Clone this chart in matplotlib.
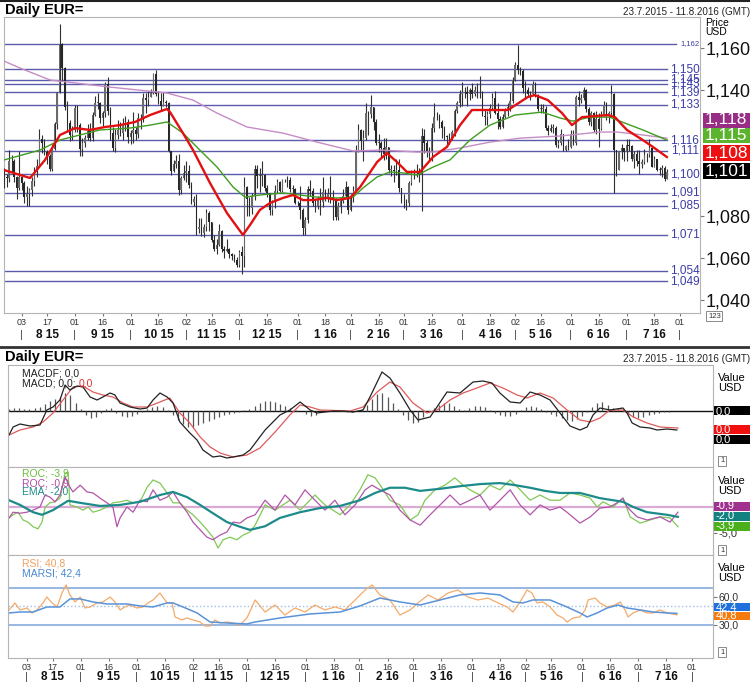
import numpy as np
import pandas as pd
import matplotlib
matplotlib.use("Agg")
import matplotlib.pyplot as plt
from matplotlib.patches import Rectangle

plt.rcParams["font.family"] = ["Liberation Sans", "DejaVu Sans"]

W, H = 750, 683

# ---- daily EUR= bars, 23.7.2015 - 25.7.2016 (one line per month) ----
closes = [
    1.0985, 1.0980, 1.1060, 1.1060, 1.0985, 1.0935, 1.0985,
    1.0955, 1.0890, 1.0905, 1.0925, 1.0965, 1.1015, 1.1040, 1.1165, 1.1150, 1.1105, 1.1085, 1.1025, 1.1120, 1.1240, 1.1385, 1.1620, 1.1505, 1.1320, 1.1245, 1.1185, 1.1210,
    1.1315, 1.1235, 1.1120, 1.1150, 1.1170, 1.1205, 1.1170, 1.1280, 1.1340, 1.1340, 1.1265, 1.1290, 1.1430, 1.1300, 1.1195, 1.1125, 1.1185, 1.1210, 1.1195, 1.1240, 1.1250, 1.1175,
    1.1195, 1.1210, 1.1190, 1.1265, 1.1265, 1.1360, 1.1355, 1.1365, 1.1385, 1.1475, 1.1380, 1.1350, 1.1325, 1.1345, 1.1340, 1.1110, 1.1015, 1.1050, 1.1060, 1.0925, 1.0980, 1.1005,
    1.1015, 1.0950, 1.0865, 1.0880, 1.0740, 1.0750, 1.0720, 1.0750, 1.0815, 1.0770, 1.0685, 1.0645, 1.0660, 1.0730, 1.0645, 1.0635, 1.0645, 1.0620, 1.0610, 1.0590, 1.0565,
    1.0630, 1.0610, 1.0940, 1.0880, 1.0840, 1.0895, 1.1025, 1.0990, 1.0990, 1.0995, 1.0935, 1.0910, 1.0830, 1.0865, 1.0920, 1.0960, 1.0920, 1.0970, 1.0970, 1.0970, 1.0930, 1.0930, 1.0860,
    1.0860, 1.0830, 1.0745, 1.0780, 1.0930, 1.0920, 1.0860, 1.0850, 1.0880, 1.0865, 1.0915, 1.0890, 1.0905, 1.0890, 1.0875, 1.0795, 1.0850, 1.0870, 1.0895, 1.0940, 1.0830,
    1.0890, 1.0920, 1.1105, 1.1210, 1.1155, 1.1170, 1.1290, 1.1285, 1.1320, 1.1250, 1.1150, 1.1150, 1.1125, 1.1095, 1.1130, 1.1020, 1.1020, 1.1015, 1.1020, 1.0935, 1.0870,
    1.0870, 1.0860, 1.0955, 1.1005, 1.1015, 1.1010, 1.0995, 1.1180, 1.1150, 1.1110, 1.1105, 1.1220, 1.1270, 1.1270, 1.1250, 1.1220, 1.1180, 1.1175, 1.1165, 1.1200, 1.1300, 1.1340, 1.1380,
    1.1390, 1.1390, 1.1380, 1.1400, 1.1380, 1.1400, 1.1390, 1.1390, 1.1275, 1.1270, 1.1285, 1.1315, 1.1360, 1.1290, 1.1260, 1.1225, 1.1270, 1.1300, 1.1320, 1.1350, 1.1450,
    1.1520, 1.1495, 1.1490, 1.1410, 1.1400, 1.1380, 1.1380, 1.1430, 1.1370, 1.1310, 1.1310, 1.1310, 1.1220, 1.1205, 1.1220, 1.1220, 1.1140, 1.1150, 1.1190, 1.1115, 1.1135, 1.1130,
    1.1190, 1.1150, 1.1365, 1.1355, 1.1360, 1.1400, 1.1310, 1.1250, 1.1290, 1.1210, 1.1260, 1.1215, 1.1280, 1.1330, 1.1275, 1.1290, 1.1380, 1.1115, 1.1020, 1.1105, 1.1125, 1.1105,
    1.1140, 1.1135, 1.1070, 1.1095, 1.1060, 1.1050, 1.1055, 1.1090, 1.1090, 1.1125, 1.1035, 1.1070, 1.1020, 1.1020, 1.1030, 1.0975, 1.1010,
]
highs = [
    1.1030, 1.1000, 1.1115, 1.1090, 1.1070, 1.0990, 1.1110,
    1.0990, 1.0965, 1.0945, 1.0935, 1.0985, 1.1035, 1.1070, 1.1215, 1.1185, 1.1165, 1.1115, 1.1095, 1.1145, 1.1250, 1.1390, 1.1715, 1.1625, 1.1510, 1.1350, 1.1255, 1.1230,
    1.1330, 1.1330, 1.1245, 1.1170, 1.1185, 1.1240, 1.1245, 1.1295, 1.1370, 1.1385, 1.1345, 1.1300, 1.1440, 1.1460, 1.1320, 1.1225, 1.1215, 1.1255, 1.1250, 1.1265, 1.1275, 1.1260,
    1.1210, 1.1295, 1.1225, 1.1290, 1.1285, 1.1385, 1.1385, 1.1395, 1.1405, 1.1480, 1.1495, 1.1395, 1.1385, 1.1390, 1.1355, 1.1345, 1.1110, 1.1065, 1.1090, 1.1095, 1.0990, 1.1045,
    1.1060, 1.1045, 1.0960, 1.0895, 1.0905, 1.0790, 1.0790, 1.0760, 1.0835, 1.0825, 1.0760, 1.0710, 1.0690, 1.0760, 1.0735, 1.0655, 1.0690, 1.0650, 1.0625, 1.0620, 1.0605,
    1.0640, 1.0655, 1.0985, 1.0945, 1.0890, 1.0910, 1.1045, 1.1045, 1.1030, 1.1060, 1.1000, 1.0950, 1.0910, 1.0875, 1.0950, 1.0975, 1.0965, 1.0975, 1.0975, 1.0990, 1.0985, 1.0950, 1.0935,
    1.0870, 1.0945, 1.0840, 1.0795, 1.0945, 1.0970, 1.0935, 1.0880, 1.0895, 1.0935, 1.0985, 1.0930, 1.0935, 1.0990, 1.0925, 1.0885, 1.0865, 1.0885, 1.0930, 1.0965, 1.0945,
    1.0905, 1.0945, 1.1140, 1.1240, 1.1215, 1.1210, 1.1340, 1.1300, 1.1375, 1.1320, 1.1260, 1.1190, 1.1155, 1.1170, 1.1170, 1.1070, 1.1045, 1.1045, 1.1070, 1.1070, 1.0935,
    1.0905, 1.0880, 1.0965, 1.1020, 1.1025, 1.1050, 1.1030, 1.1220, 1.1215, 1.1160, 1.1130, 1.1245, 1.1340, 1.1295, 1.1285, 1.1255, 1.1230, 1.1185, 1.1195, 1.1210, 1.1310, 1.1350, 1.1400,
    1.1440, 1.1415, 1.1420, 1.1410, 1.1435, 1.1420, 1.1435, 1.1465, 1.1395, 1.1305, 1.1300, 1.1335, 1.1385, 1.1395, 1.1340, 1.1275, 1.1285, 1.1315, 1.1340, 1.1390, 1.1460,
    1.1535, 1.1615, 1.1510, 1.1500, 1.1445, 1.1415, 1.1395, 1.1445, 1.1440, 1.1380, 1.1335, 1.1335, 1.1325, 1.1235, 1.1240, 1.1240, 1.1230, 1.1160, 1.1215, 1.1190, 1.1140, 1.1165,
    1.1210, 1.1210, 1.1375, 1.1395, 1.1380, 1.1415, 1.1405, 1.1320, 1.1300, 1.1295, 1.1300, 1.1290, 1.1300, 1.1350, 1.1345, 1.1300, 1.1425, 1.1385, 1.1115, 1.1110, 1.1145, 1.1125,
    1.1165, 1.1165, 1.1140, 1.1110, 1.1115, 1.1115, 1.1070, 1.1120, 1.1100, 1.1165, 1.1130, 1.1085, 1.1070, 1.1035, 1.1045, 1.1040, 1.1025,
]
lows = [
    1.0935, 1.0940, 1.0960, 1.1010, 1.0960, 1.0880, 1.0925,
    1.0925, 1.0860, 1.0850, 1.0850, 1.0895, 1.0945, 1.0985, 1.1040, 1.1100, 1.1090, 1.1050, 1.1015, 1.1015, 1.1115, 1.1215, 1.1385, 1.1445, 1.1305, 1.1200, 1.1155, 1.1160,
    1.1200, 1.1200, 1.1085, 1.1085, 1.1130, 1.1160, 1.1155, 1.1155, 1.1275, 1.1310, 1.1245, 1.1230, 1.1270, 1.1280, 1.1160, 1.1110, 1.1105, 1.1165, 1.1180, 1.1160, 1.1205, 1.1150,
    1.1145, 1.1150, 1.1160, 1.1170, 1.1215, 1.1250, 1.1290, 1.1325, 1.1365, 1.1380, 1.1370, 1.1335, 1.1305, 1.1325, 1.1320, 1.1105, 1.0995, 1.1010, 1.1030, 1.0900, 1.0905, 1.0970,
    1.0960, 1.0935, 1.0855, 1.0850, 1.0710, 1.0720, 1.0705, 1.0700, 1.0730, 1.0730, 1.0675, 1.0635, 1.0620, 1.0655, 1.0630, 1.0600, 1.0630, 1.0600, 1.0590, 1.0580, 1.0555,
    1.0555, 1.0525, 1.0555, 1.0800, 1.0800, 1.0810, 1.0875, 1.0935, 1.0915, 1.0945, 1.0920, 1.0890, 1.0805, 1.0805, 1.0840, 1.0910, 1.0915, 1.0915, 1.0960, 1.0940, 1.0915, 1.0905, 1.0855,
    1.0850, 1.0785, 1.0710, 1.0710, 1.0765, 1.0895, 1.0850, 1.0820, 1.0835, 1.0805, 1.0845, 1.0870, 1.0865, 1.0860, 1.0780, 1.0780, 1.0780, 1.0815, 1.0860, 1.0890, 1.0810,
    1.0825, 1.0865, 1.0915, 1.1105, 1.1115, 1.1060, 1.1160, 1.1185, 1.1265, 1.1210, 1.1140, 1.1105, 1.1080, 1.1065, 1.1070, 1.1005, 1.0990, 1.0960, 1.0995, 1.0915, 1.0860,
    1.0840, 1.0830, 1.0850, 1.0950, 1.0975, 1.0985, 1.0960, 1.0825, 1.1100, 1.1080, 1.1060, 1.1060, 1.1200, 1.1255, 1.1220, 1.1170, 1.1160, 1.1145, 1.1145, 1.1160, 1.1180, 1.1290, 1.1320,
    1.1325, 1.1360, 1.1325, 1.1355, 1.1360, 1.1370, 1.1360, 1.1360, 1.1275, 1.1235, 1.1235, 1.1265, 1.1305, 1.1285, 1.1215, 1.1215, 1.1220, 1.1265, 1.1275, 1.1300, 1.1340,
    1.1445, 1.1475, 1.1470, 1.1385, 1.1360, 1.1365, 1.1355, 1.1375, 1.1365, 1.1300, 1.1290, 1.1290, 1.1210, 1.1185, 1.1200, 1.1195, 1.1130, 1.1125, 1.1140, 1.1110, 1.1110, 1.1115,
    1.1125, 1.1140, 1.1140, 1.1325, 1.1340, 1.1355, 1.1295, 1.1235, 1.1230, 1.1200, 1.1190, 1.1130, 1.1210, 1.1275, 1.1255, 1.1245, 1.1275, 1.0910, 1.0990, 1.1025, 1.1070, 1.1060,
    1.1060, 1.1110, 1.1060, 1.1030, 1.1040, 1.1000, 1.1030, 1.1050, 1.1055, 1.1080, 1.1035, 1.1055, 1.1015, 1.0995, 1.0985, 1.0965, 1.0980,
]

levels = [1.162, 1.150, 1.145, 1.143, 1.139, 1.133, 1.116, 1.111, 1.100, 1.091, 1.085, 1.071, 1.054, 1.049]

# moving averages (trading-day number, price)
red_day = [0, 10.3, 16.2, 22.1, 28.1, 34.0, 39.9, 45.8, 51.8, 57.7, 64.4, 65.6, 70.7, 74.7, 81.4, 88.1, 94.4, 97.2, 101.1, 105.1,
           110.2, 114.2, 118.1, 122.1, 127.6, 131.6, 136.7, 140.7, 147.4, 151.3, 155.3, 159.2, 164.4, 169.5, 175.0, 180.2, 184.9,
           192.0, 199.1, 207.0, 209.8, 214.9, 220.5, 224.4, 228.4, 238.6, 241.4, 246.1, 252.4, 256.4, 261.9]
red_ma = [1.1019, 1.0981, 1.1067, 1.1186, 1.1219, 1.1210, 1.1224, 1.1233, 1.1248, 1.1281, 1.1310, 1.1295, 1.1195, 1.1114, 1.0957,
          1.0814, 1.0710, 1.0757, 1.0829, 1.0862, 1.0886, 1.0900, 1.0876, 1.0876, 1.0886, 1.0876, 1.0886, 1.0938, 1.1057, 1.1100,
          1.1057, 1.1010, 1.1010, 1.1081, 1.1129, 1.1233, 1.1305, 1.1305, 1.1305, 1.1367, 1.1376, 1.1352, 1.1290, 1.1233, 1.1271,
          1.1281, 1.1271, 1.1210, 1.1162, 1.1129, 1.1081]
green_day = [0, 14.2, 22.1, 37.9, 49.8, 57.7, 64.4, 70.7, 77.4, 84.2, 90.5, 95.2, 101.1, 110.2, 117.0, 123.7, 131.6, 137.9,
             141.8, 147.4, 152.5, 157.6, 163.2, 169.5, 176.2, 184.1, 192.0, 201.9, 212.6, 219.7, 224.8, 231.5, 239.4, 242.2, 252.4, 261.9]
green_ma = [1.1067, 1.1114, 1.1162, 1.1210, 1.1219, 1.1233, 1.1248, 1.1195, 1.1114, 1.1033, 1.0938, 1.0890, 1.0900, 1.0910,
            1.0900, 1.0890, 1.0886, 1.0890, 1.0933, 1.0986, 1.1010, 1.1005, 1.0995, 1.1033, 1.1067, 1.1162, 1.1233, 1.1281,
            1.1295, 1.1267, 1.1252, 1.1271, 1.1271, 1.1257, 1.1210, 1.1162]
purple_day = [0, 6.3, 18.2, 41.9, 64.4, 74.7, 84.2, 96.0, 110.2, 123.7, 137.9, 149.7, 163.2, 169.5, 180.2, 192.0, 203.9,
              219.7, 235.5, 242.2, 252.4, 261.9]
purple_ma = [1.1538, 1.1505, 1.1448, 1.1414, 1.1386, 1.1352, 1.1290, 1.1224, 1.1195, 1.1152, 1.1110, 1.1114, 1.1105, 1.1105,
             1.1124, 1.1152, 1.1171, 1.1181, 1.1200, 1.1200, 1.1186, 1.1171]

# MACD panel (values in 1e-3)
macd_day = [0, 1.6, 4.3, 8.2, 12.1, 14.8, 17.2, 19.9, 21.9, 23.8, 26.6, 28.9, 31.7, 34.4, 36.7, 39.5, 41.4, 43.4, 47.3, 51.2,
            54, 56.3, 59, 61.8, 64.1, 66.8, 70.7, 73.5, 75.8, 79.7, 82.5, 85.2, 87.6, 91.5, 94.2, 100.1, 105.9, 109.8, 113.8,
            117.7, 120.4, 126.7, 130.6, 134.5, 138.4, 141.1, 145.8, 148.9, 152.8, 156.8, 159.9, 164.6, 167.3, 171.2, 176.3,
            181.4, 185.3, 188.8, 191.9, 195.9, 199.8, 203.7, 207.6, 211.5, 215.4, 219.3, 223.2, 226, 228.3, 231, 234.9, 240,
            241.6, 243.6, 246.7, 250.6, 253.3, 257.2, 261.1]
macd_line = [-9.6, -6.4, -5.2, -6.0, -5.6, 0.4, 1.6, 4.4, 10.4, 8.4, 10.0, 9.6, 5.6, 4.4, 5.6, 7.2, 6.4, 3.2, 1.6, 0.8, 1.2, 4.4,
             7.2, 5.6, 3.2, -4.4, -8.8, -11.6, -15.6, -18.4, -18.0, -18.8, -18.4, -17.6, -15.6, -7.6, -1.6, 0.4, 3.6, 0.4, -0.8,
             0, 0, -0.4, 0.4, 5.6, 15.6, 13.2, 7.2, 0.4, -3.6, -2.4, 1.6, 7.6, 7.2, 11.6, 12.0, 11.2, 7.2, 3.6, 3.2, 7.6, 6.4,
             4.4, -0.8, -6.0, -7.6, -6.4, -1.6, 1.2, 0.4, 1.2, -0.8, -4.8, -6.4, -6.8, -7.6, -7.2, -7.6]
signal_day = [0, 4.3, 9.4, 13.3, 17.2, 21.1, 25, 28.9, 32.8, 36.7, 40.6, 44.6, 48.5, 54, 59, 62.9, 66.8, 70.7, 74.7, 78.6, 82.5,
              87.6, 93, 98.1, 104, 109.8, 113.8, 117.7, 121.6, 133.3, 138.4, 143.9, 148.9, 152.8, 157.9, 163.4, 167.3, 172.4,
              177.5, 182.9, 188, 193.1, 198.6, 202.5, 207.6, 212.7, 218.1, 223.2, 227.2, 231, 234.9, 240, 244, 249.4, 254.5, 261.5]
signal_line = [-9.6, -7.6, -6.4, -4.4, -0.8, 4.4, 9.6, 10.0, 7.6, 6.4, 5.6, 3.2, 1.6, 1.6, 3.6, 5.2, -0.8, -4.8, -10.4, -14.4,
               -16.8, -18.4, -17.6, -14.8, -8.4, -1.6, 2.4, 1.6, 0.4, 0, 1.6, 7.6, 11.6, 9.6, 3.2, -0.8, 0.4, 4.4, 7.2, 9.2, 11.2,
               9.2, 6.4, 5.2, 7.2, 5.2, 0.4, -3.6, -4.4, -2.8, 0.4, 0.4, -2.4, -4.8, -6.4, -6.8]
hist_day = list(range(0, 263, 2))
hist_val = [0.8, 1.2, 1.2, 0.8, 0.8, 1.2, 1.6, 2.8, 4.0, 4.8,
            5.6, 7.2, 6.4, 3.2, 0.8, -1.6, -2.8, -2.4, -0.8, 0.8,
            1.2, -0.8, -2.0, -2.4, -2.0, -1.2, -0.4, 0.8, 1.6, 2.0,
            1.6, 0.4, -1.6, -3.6, -5.2, -6.4, -6.4, -5.6, -4.8, -4.0,
            -3.2, -2.4, -1.6, -1.2, -0.8, -0.4, 0.4, 0.8, 2.0, 3.2,
            4.0, 4.0, 3.6, 2.8, 2.0, 1.2, 0.4, 0.0, -1.2, -2.0,
            -1.6, -0.4, 0.4, 0.4, 0.0, 0.4, -0.4, -0.4, 0.0, 0.8,
            2.4, 4.8, 6.8, 7.2, 5.6, 3.2, 0.8, -1.6, -3.6, -4.8,
            -4.4, -2.4, -0.4, 1.2, 2.4, 3.2, 3.2, 2.0, 0.8, 0.4,
            1.2, 2.0, 2.0, 1.6, 0.4, -0.8, -1.6, -2.0, -2.0, -1.2,
            0.4, 1.6, 2.0, 1.6, 0.8, -0.4, -1.2, -2.0, -2.8, -3.6,
            -4.0, -3.2, -2.0, -0.4, 1.6, 3.2, 3.6, 2.4, 1.2, 0.8,
            0.4, -1.2, -2.4, -2.8, -2.4, -1.6, -1.2, -0.8, -0.4, -0.4,
            0.0, 0.0]

# ROC panel
roc_g_day = [0, 1.6, 3.5, 5.5, 7.4, 9.4, 11.3, 12.9, 14.1, 16, 18, 19.9, 21.9, 23.1, 23.8, 26.6, 28.9, 30.9, 32.8, 35.6, 38.3,
             40.6, 43.4, 46.1, 48.5, 51.2, 54, 56.3, 59, 61.8, 64.1, 66.8, 69.6, 71.9, 74.7, 77.4, 79.7, 81.7, 83.7, 86.4, 89.1,
             91.5, 94.2, 96.2, 100.1, 104, 109.8, 113.8, 119.6, 123.5, 129.4, 133.3, 137.2, 140.3, 143.1, 145.8, 148.9, 152.8,
             156.8, 159.9, 162.6, 166.5, 170.4, 174.3, 177.5, 180.2, 184.1, 188, 191.9, 195.9, 199.8, 203.7, 207.6, 211.5,
             215.4, 219.3, 223.2, 227.2, 229.9, 232.2, 236.1, 240, 242.8, 246.7, 250.6, 254.5, 258.4, 261.5]
roc_g = [-2.1, -1.5, -1.0, -2.5, -2.9, -3.8, -4.2, -2.9, 0, 0.8, 1.0, 1.7, 6.5, 6.7, 0.4, 0, -0.6, 0, -1.0, -0.6, 0, 0.8, 1.0,
         1.3, 0.8, 1.0, 3.8, 5.2, 4.6, 2.7, 0.8, 0.8, -0.6, -1.5, -2.9, -4.4, -5.8, -7.9, -6.3, -5.8, -6.3, -5.4, -4.8, -3.5,
         0.4, -0.6, 1.3, -0.6, 2.3, 0.4, -1.5, 0.4, 3.3, 6.2, 5.6, 3.7, 1.3, 0.4, -2.5, -1.5, 1.3, 3.3, 4.2, 5.6, 4.2, 3.3,
         2.3, 4.2, 3.3, 5.2, 3.3, 1.3, 2.3, 1.3, 1.3, 2.7, 2.3, 1.7, 0, 1.0, 0, 1.7, -1.9, -3.1, -2.5, -1.9, -2.1, -3.8]
roc_p_day = [0, 1.6, 4.3, 7.0, 9.4, 12.1, 14.1, 16, 18, 19.9, 21.9, 23.8, 25, 27.8, 30.5, 32.8, 35.6, 38.3, 40.6, 42.2, 43.4,
             46.1, 48.5, 51.2, 54, 56.3, 59, 61.8, 64.1, 66.8, 69.6, 71.9, 74.7, 77.4, 79.7, 82.5, 85.2, 87.6, 90.3, 93, 96.2,
             100.1, 104, 107.9, 111.8, 115.7, 119.6, 123.5, 127.4, 131.3, 135.3, 139.2, 141.9, 145, 148.9, 152.8, 156.8, 160.7,
             164.6, 168.5, 172.4, 176.3, 180.2, 184.1, 188, 191.9, 195.9, 199.8, 203.7, 207.6, 211.5, 215.4, 218.1, 223.2,
             227.2, 231, 234.9, 237.7, 240, 241.6, 245.5, 249.4, 254.5, 258.4, 261.5]
roc_p = [-2.1, -1.0, -1.2, -1.0, -0.6, 0, 2.3, 1.9, 1.0, 2.3, 5.8, 3.8, 2.9, 4.2, 2.9, 2.7, 1.7, 0.8, 0, -3.8, -2.1, 0, -1.0,
         1.3, 1.0, 3.3, 1.3, 1.9, 2.9, 0.8, -1.0, -2.9, -4.4, -5.8, -6.3, -5.4, -4.8, -2.9, -3.1, -2.1, -1.5, 1.3, -0.6, 2.3,
         0.4, 3.3, 1.3, -0.6, 1.3, -1.5, 0.4, 3.3, 4.2, 3.3, 2.3, -0.6, -2.5, -3.5, -1.5, 0.4, 2.3, 0.4, 1.3, 2.3, -0.6, 1.3,
         3.3, 0.4, -1.5, 0.4, -0.6, 0, -1.0, -3.1, -1.9, -0.2, 0, 0.8, 1.7, 0, -1.9, -2.5, -1.9, -2.9, -1.0]
ema_day = [0, 4.3, 9.4, 12.9, 17.2, 23.1, 27.8, 35.6, 43.4, 51.2, 59, 64.1, 69.6, 74.7, 79.7, 85.2, 90.3, 94.2, 100.1, 105.9,
           113.8, 121.6, 129.4, 137.2, 143.1, 148.9, 154.8, 160.7, 168.5, 176.3, 184.1, 191.9, 197.8, 203.7, 209.5, 215.4,
           223.2, 231, 240, 244, 249.4, 257.2, 261.5]
ema_val = [1.3, 0.4, -1.0, -1.5, -0.6, 1.2, 0.8, 0.2, 0.4, 1.0, 2.3, 2.9, 1.9, 0.4, -1.2, -2.9, -3.8, -4.4, -3.7, -2.1, -1.0,
           -0.2, 0.2, 1.3, 2.7, 3.7, 3.7, 3.1, 3.5, 4.0, 4.4, 4.6, 4.2, 3.7, 3.1, 2.7, 2.7, 1.7, 1.0, 0, -1.0, -1.5, -1.9]

# RSI panel
rsi_day = [0, 2.3, 4.3, 7.0, 9.0, 11, 13.3, 14.8, 16.8, 18.8, 20.7, 22.3, 23.8, 25.8, 27.8, 29.7, 31.7, 34.4, 36.7, 39.5,
           41.4, 43.4, 45.3, 47.3, 50, 52.4, 54.3, 56.3, 59, 61.8, 63.7, 64.9, 67.6, 69.6, 71.9, 74.7, 76.6, 78.6, 80.5, 82.5,
           85.2, 87.6, 90.3, 93, 96.2, 100.1, 104, 107.9, 111.8, 115.7, 119.6, 123.5, 127.4, 131.3, 135.3, 139.2, 141.9, 145,
           148.9, 152.8, 156.8, 159.9, 163.8, 167.7, 171.6, 175.5, 179.4, 183.3, 187.2, 191.2, 194.7, 197, 199.8, 202.5,
           204.4, 206.4, 208.7, 211.5, 214.2, 216.6, 218.1, 220.5, 223.2, 225.2, 226.4, 229.1, 231, 233.8, 236.9, 238.9,
           240.8, 242, 244, 246.7, 249.4, 251.8, 254.5, 257.2, 261.1]
rsi_val = [46.1, 53.6, 46.1, 48.2, 42.9, 46.1, 53.6, 60, 53.6, 49.3, 64.3, 72.9, 62.2, 54.7, 60, 48.2, 49.3, 53.6, 54.7, 60,
           54.7, 46.1, 49.3, 51.4, 48.2, 49.3, 53.6, 56.8, 64.3, 53.6, 53.6, 38.6, 35.4, 37.5, 35.4, 33.2, 28.9, 28.9, 35.4,
           32.1, 33.2, 32.1, 30, 37.5, 56.8, 43.9, 51.4, 40.7, 48.2, 43.9, 51.4, 46.1, 49.3, 46.1, 56.8, 67.5, 72.9, 62.2,
           56.8, 40.7, 46.1, 53.6, 62.2, 56.8, 64.3, 67.5, 60, 56.8, 58.9, 53.6, 49.3, 43.9, 54.7, 67.5, 64.3, 53.6, 54.7,
           49.3, 40.7, 37.5, 33.2, 37.5, 38.6, 46.1, 56.8, 58.9, 53.6, 49.3, 51.4, 54.7, 46.1, 38.6, 42.9, 46.1, 42.9, 42.9,
           46.1, 42.9, 40.8]
marsi_day = [0, 4.3, 9.4, 14.8, 19.9, 23.8, 27.8, 32.8, 38.3, 46.1, 51.2, 56.3, 61.8, 64.1, 68, 73.5, 78.6, 85.2, 93, 96.2,
             105.9, 117.7, 129.4, 137.2, 145, 152.8, 160.7, 168.5, 176.3, 184.1, 191.9, 197, 200.9, 204.8, 211.5, 218.1,
             223.2, 226, 229.9, 233.8, 238.1, 241.6, 246.7, 251.8, 257.2, 261.1]
marsi_val = [42.9, 43.9, 43.9, 49.3, 49.3, 57.9, 57.9, 54.7, 52.5, 52.5, 50.4, 49.3, 53.6, 53.6, 49.3, 42.9, 33.2, 32.1, 31.1,
             33.2, 37.5, 41.8, 43.9, 50.4, 58.9, 54.7, 51.4, 56.8, 62.2, 64.3, 62.2, 54.7, 53.6, 56.8, 56.8, 49.3, 42.9, 38.6,
             42.9, 48.2, 51.4, 48.2, 46.1, 43.9, 42.9, 42.4]

tick_dates = ["2015-08-03", "2015-08-17", "2015-09-01", "2015-09-16", "2015-10-01", "2015-10-16", "2015-11-02",
              "2015-11-16", "2015-12-01", "2015-12-16", "2016-01-01", "2016-01-18", "2016-02-01", "2016-02-16",
              "2016-03-01", "2016-03-16", "2016-04-01", "2016-04-18", "2016-05-02", "2016-05-16", "2016-06-01",
              "2016-06-16", "2016-07-01", "2016-07-18", "2016-08-01"]
month_labels = ["8 15", "9 15", "10 15", "11 15", "12 15", "1 16", "2 16", "3 16", "4 16", "5 16", "6 16", "7 16"]

bdays = pd.bdate_range("2015-07-23", "2016-08-11")
tick_pos = [bdays.get_loc(pd.Timestamp(d)) for d in tick_dates]
tick_lab = [pd.Timestamp(d).strftime("%d") for d in tick_dates]


def comma(v, d):
    return f"{v:.{d}f}".replace(".", ",")


fig = plt.figure(figsize=(W / 100, H / 100), dpi=100)


def ftext(x, y, s, **kw):
    return fig.text(x / W, 1 - y / H, s, **kw)


def panel(x0, y0, x1, y1):
    ax = fig.add_axes([x0 / W, 1 - y1 / H, (x1 - x0) / W, (y1 - y0) / H])
    for s in ax.spines.values():
        s.set_color("#b4b4b4")
        s.set_linewidth(0.8)
    return ax


def box(x, y, s, fc, size, h):
    # coloured value box running to the right edge of the picture
    fig.add_artist(Rectangle(((x - 2) / W, 1 - (y + h / 2) / H), (W - x + 2) / W, h / H,
                             transform=fig.transFigure, fc=fc, ec="none"))
    ftext(x, y, s, color="white", fontsize=size, ha="left", va="center")


def small_box(x, y, s):
    ftext(x, y, s, fontsize=5.5, color="#333333", ha="left", va="center",
          bbox=dict(boxstyle="square,pad=0.2", fc="white", ec="#777777", lw=0.6))


def month_row(ax, yfrac):
    for p, lab in zip(tick_pos[1::2], month_labels):
        ax.text(p, yfrac, lab, transform=ax.get_xaxis_transform(), ha="center", va="center",
                fontsize=8.5, fontweight="bold", color="#111111", clip_on=False)
    for p in tick_pos[0::2]:
        ax.text(p, yfrac, "|", transform=ax.get_xaxis_transform(), ha="center", va="center",
                fontsize=8, color="#444444", clip_on=False)


# separators / headers
fig.add_artist(plt.Line2D([0, 1], [1 - 1 / H, 1 - 1 / H], color="#222222", lw=1.5))
fig.add_artist(plt.Line2D([0, 1], [1 - 347 / H, 1 - 347 / H], color="#333333", lw=2))
ftext(5, 10, "Daily EUR=", fontsize=10.5, fontweight="bold", va="center")
ftext(5, 357, "Daily EUR=", fontsize=10.5, fontweight="bold", va="center")
ftext(623, 12, "23.7.2015 - 11.8.2016 (GMT)", fontsize=7.1, va="center", color="#222222")
ftext(623, 359, "23.7.2015 - 11.8.2016 (GMT)", fontsize=7.1, va="center", color="#222222")

# ---------------- price panel ----------------
ax = panel(4, 17, 700, 313)
ax.set_xlim(0, 275)
ax.set_ylim(1.0338, 1.1748)

for lv in levels:
    end = 0.966 if lv == 1.162 else 0.952
    ax.plot([0, end], [lv, lv], transform=ax.get_yaxis_transform(), color="#5b5bab", lw=1, zorder=2)
    ax.text(0.999, lv, comma(lv, 3), transform=ax.get_yaxis_transform(), ha="right", va="center",
            fontsize=5.5 if lv == 1.162 else 8.5, color="#3c3ca8", zorder=2)

idx = np.arange(len(closes))
c = np.array(closes)
o = np.r_[c[0], c[:-1]]
hi = np.maximum(np.array(highs), np.maximum(o, c))
lo = np.minimum(np.array(lows), np.minimum(o, c))
ax.vlines(idx, lo, hi, color="#303030", lw=0.8, zorder=3)
ax.bar(idx, np.maximum(np.abs(c - o), 0.0003), bottom=np.minimum(o, c), width=0.6,
       color=["#6a6a6a" if up else "#262626" for up in c >= o], linewidth=0, zorder=3)

ax.plot(purple_day, purple_ma, color="#c58cc5", lw=1.0, zorder=4)
ax.plot(green_day, green_ma, color="#3f9d1f", lw=1.0, zorder=4)
ax.plot(red_day, red_ma, color="#e21010", lw=1.7, zorder=5)

ax.yaxis.tick_right()
ax.set_yticks([1.04, 1.06, 1.08, 1.14, 1.16])
ax.set_yticklabels([comma(v, 3) for v in [1.04, 1.06, 1.08, 1.14, 1.16]])
ax.tick_params(axis="y", labelsize=13, length=3, pad=1, color="#777777", labelcolor="#111111")
ax.set_xticks(tick_pos)
ax.set_xticklabels(tick_lab)
ax.tick_params(axis="x", labelsize=6.5, length=2, pad=1.5, color="#777777", labelcolor="#333333")
month_row(ax, (313 - 335) / 296)

ftext(705, 23, "Price", fontsize=7.5, va="center")
ftext(705, 32, "USD", fontsize=7.5, va="center")
box(705, 120, "1,118", "#982d86", 12.5, 15)
box(705, 135, "1,115", "#5cb42e", 12.5, 15)
box(705, 153, "1,108", "#ee1010", 12.5, 16)
box(705, 171, "1,101", "#000000", 12.5, 16)
small_box(708, 316, "123")

# ---------------- MACD panel ----------------
am = panel(8, 365, 713, 467)
am.set_xlim(-0.4, 275.2)
am.set_ylim(-22.4, 18.4)
am.axhline(0, color="#111111", lw=1)
am.vlines(hist_day, 0, hist_val, color="#555555", lw=0.9)
am.plot(signal_day, signal_line, color="#e05a5a", lw=0.9)
am.plot(macd_day, macd_line, color="#222222", lw=0.9)
am.set_xticks([])
am.set_yticks([])
ftext(22, 373, "MACDF; 0,0", fontsize=7.5, va="center", color="#222222")
t = ftext(22, 383, "MACD; 0,0; ", fontsize=7.5, va="center", color="#222222")
bb = t.get_window_extent(fig.canvas.get_renderer())
fig.text(bb.x1 / fig.dpi / fig.get_figwidth(), 1 - 383 / H, "0,0", fontsize=7.5, va="center", color="#e03030")
ftext(718, 378, "Value", fontsize=8, va="center")
ftext(718, 388, "USD", fontsize=8, va="center")
box(716, 411, "0,0", "#000000", 8, 9)
box(716, 429, "0,0", "#f01010", 8, 9)
box(716, 439, "0,0", "#000000", 8, 9)
small_box(720, 461, "1")

# ---------------- ROC panel ----------------
ar = panel(8, 467, 713, 555)
ar.set_xlim(-0.4, 275.2)
ar.set_ylim(-9.23, 7.69)
ar.axhline(0, color="#dcaad6", lw=1.6)
ar.plot(roc_g_day, roc_g, color="#80c955", lw=0.9)
ar.plot(roc_p_day, roc_p, color="#b255aa", lw=0.9)
ar.plot(ema_day, ema_val, color="#1e8b8b", lw=1.6)
ar.set_xticks([])
ar.yaxis.tick_right()
ar.set_yticks([-5])
ar.set_yticklabels(["-5,0"])
ar.tick_params(axis="y", labelsize=8, length=3, pad=1, color="#777777", labelcolor="#333333")
ftext(22, 474, "ROC; -3,9", fontsize=7.5, va="center", color="#6cbf3c")
ftext(22, 483, "ROC; -0,9", fontsize=7.5, va="center", color="#b04aa4")
ftext(22, 492, "EMA; -2,0", fontsize=7.5, va="center", color="#1e8b8b")
ftext(718, 481, "Value", fontsize=8, va="center")
ftext(718, 491, "USD", fontsize=8, va="center")
box(716, 506, "-0,9", "#a0318e", 8, 9)
box(716, 516, "-2,0", "#128280", 8, 9)
box(716, 526, "-3,9", "#4caf1c", 8, 9)
small_box(720, 550, "1")

# ---------------- RSI panel ----------------
ai = panel(8, 555, 713, 658)
ai.set_xlim(-0.4, 275.2)
ai.set_ylim(-5.4, 105)
ai.axhline(70, color="#8fb2e0", lw=1.3)
ai.axhline(30, color="#8fb2e0", lw=1.3)
ai.axhline(50, color="#9fc0e8", lw=1, ls=":")
ai.plot(rsi_day, rsi_val, color="#f4aa6a", lw=0.9)
ai.plot(marsi_day, marsi_val, color="#5a93d8", lw=1.1)
ai.yaxis.tick_right()
ai.set_yticks([60, 30])
ai.set_yticklabels(["60,0", "30,0"])
ai.tick_params(axis="y", labelsize=7.5, length=3, pad=1, color="#777777", labelcolor="#333333")
ai.set_xticks(tick_pos)
ai.set_xticklabels(tick_lab)
ai.tick_params(axis="x", labelsize=6.5, length=2, pad=1.5, color="#777777", labelcolor="#333333")
month_row(ai, (658 - 677) / 103)
ftext(22, 563, "RSI; 40,8", fontsize=7.5, va="center", color="#f0a060")
ftext(22, 573, "MARSI; 42,4", fontsize=7.5, va="center", color="#4a8ad0")
ftext(718, 568, "Value", fontsize=8, va="center")
ftext(718, 578, "USD", fontsize=8, va="center")
box(716, 607, "42,4", "#1f6fdc", 8, 8)
box(716, 616, "40,8", "#f57c0c", 8, 8)
small_box(720, 652, "1")

fig.savefig("out.png", dpi=100, facecolor="white")
